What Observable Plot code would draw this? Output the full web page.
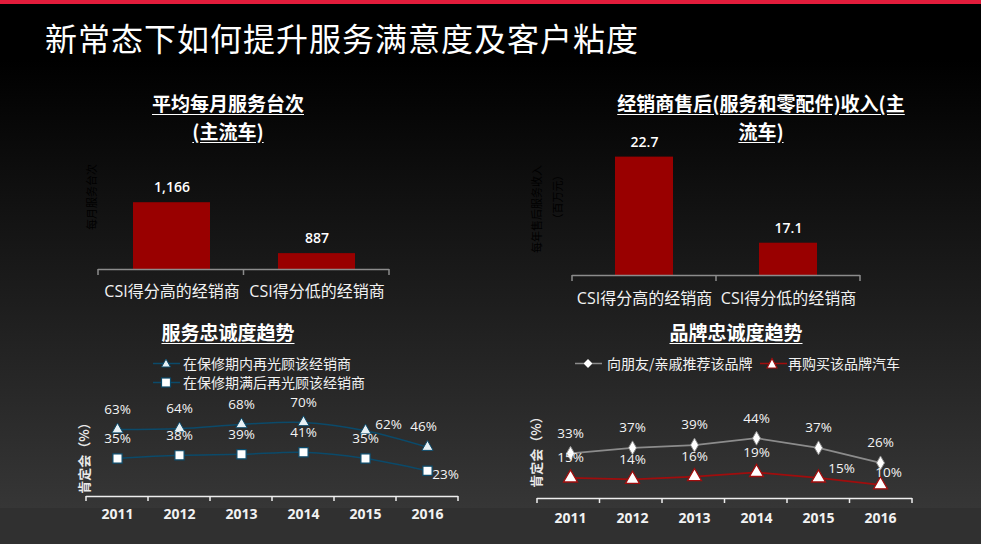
<!DOCTYPE html>
<html>
<head>
<meta charset="utf-8">
<script src="https://cdn.jsdelivr.net/npm/d3@7"></script>
<script src="https://cdn.jsdelivr.net/npm/@observablehq/plot@0.6"></script>
<style>
  html, body { margin: 0; padding: 0; background: #000; }
  #page {
    position: relative; width: 981px; height: 544px; overflow: hidden;
    background: linear-gradient(180deg, #000 0px, #000 60px, #363636 508px, #303030 508px, #303030 544px);
    font-family: "Noto Sans CJK SC", "Noto Sans", sans-serif; color: #fff;
  }
  #topbar { position: absolute; left: 0; top: 0; width: 981px; height: 4px; background: #e21c3b; }
  .abs { position: absolute; }
  #mainTitle { left: 45px; top: 21px; font-size: 32px; line-height: 32px; letter-spacing: 1px; font-weight: 400; white-space: nowrap; }
  .ctitle { text-align: center; font-size: 19px; line-height: 20px; height: 20px; font-weight: 700; text-decoration: underline; text-underline-offset: 3px; white-space: nowrap; z-index: 2; }
  .leg { font-size: 14px; line-height: 19px; height: 19px; white-space: nowrap; color: #f2f2f2; display: flex; align-items: center; }
  .leg svg { display: block; }
  .ylab { transform: translate(-50%, -50%) rotate(-90deg); white-space: nowrap; }
  .chart { position: absolute; }
</style>
</head>
<body>
<div id="page">
  <div id="topbar"></div>
  <div id="mainTitle" class="abs">新常态下如何提升服务满意度及客户粘度</div>

  <div class="abs ctitle" style="left:128px; top:92.5px; width:200px;">平均每月服务台次</div>
  <div class="abs ctitle" style="left:128px; top:120.5px; width:200px;">(主流车)</div>
  <div class="abs ctitle" style="left:561px; top:92.5px; width:400px;">经销商售后(服务和零配件)收入(主</div>
  <div class="abs ctitle" style="left:561px; top:120.5px; width:400px;">流车)</div>
  <div class="abs ctitle" style="left:128px; top:321.5px; width:200px;">服务忠诚度趋势</div>
  <div class="abs ctitle" style="left:636px; top:321.5px; width:200px;">品牌忠诚度趋势</div>

  <div class="abs ylab" style="left:91px; top:197px; font-size:11px; color:#000;">每月服务台次</div>
  <div class="abs ylab" style="left:536px; top:209px; font-size:11px; color:#000;">每年售后服务收入</div>
  <div class="abs ylab" style="left:557px; top:197px; font-size:11px; color:#000;">（百万元）</div>
  <div class="abs ylab" style="left:83px; top:455px; font-size:13px; font-weight:700; color:#e8e8e8;">肯定会（%）</div>
  <div class="abs ylab" style="left:535px; top:449px; font-size:13px; font-weight:700; color:#e8e8e8;">肯定会（%）</div>

  <div id="c1" class="chart" style="left:80px; top:110px;"></div>
  <div id="c2" class="chart" style="left:540px; top:110px;"></div>
  <div id="c3" class="chart" style="left:70px; top:380px;"></div>
  <div id="c4" class="chart" style="left:520px; top:380px;"></div>

  <div class="abs leg" style="left:153px; top:353.5px;">
    <svg width="30" height="19"><line x1="0" y1="9.5" x2="27" y2="9.5" stroke="#0b4a6a" stroke-width="1.5"/><path d="M13,5 L17.5,13 L8.5,13 Z" fill="#e8f0f4" stroke="#0b4a6a" stroke-width="1"/></svg>
    <span>在保修期内再光顾该经销商</span>
  </div>
  <div class="abs leg" style="left:153px; top:372.5px;">
    <svg width="30" height="19"><line x1="0" y1="9.5" x2="27" y2="9.5" stroke="#0b4a6a" stroke-width="1.5"/><rect x="8.5" y="5" width="9" height="9" fill="#fff" stroke="#0b4a6a" stroke-width="1.2"/></svg>
    <span>在保修期满后再光顾该经销商</span>
  </div>
  <div class="abs leg" style="left:575px; top:353.5px;">
    <svg width="32" height="19"><line x1="0" y1="9.5" x2="27" y2="9.5" stroke="#8c8c8c" stroke-width="1.5"/><path d="M13,5 L17.5,9.5 L13,14 L8.5,9.5 Z" fill="#fff" stroke="#8c8c8c" stroke-width="1"/></svg>
    <span>向朋友/亲戚推荐该品牌</span>
  </div>
  <div class="abs leg" style="left:760px; top:353.5px;">
    <svg width="28" height="19"><line x1="0" y1="9.5" x2="27" y2="9.5" stroke="#a00d0d" stroke-width="1.5"/><path d="M12,4.5 L17,14 L7,14 Z" fill="#fff" stroke="#a00d0d" stroke-width="1.2"/></svg>
    <span>再购买该品牌汽车</span>
  </div>
</div>

<script>
// ---------- data ----------
const dealerCats = ["CSI得分高的经销商", "CSI得分低的经销商"];
const monthlyService = [1166, 887];
const afterSalesRevenue = [22.7, 17.1];

const years = ["2011", "2012", "2013", "2014", "2015", "2016"];
const revisitInWarranty = [63, 64, 68, 70, 62, 46];
const revisitAfterWarranty = [35, 38, 39, 41, 35, 23];
const recommendBrand = [33, 37, 39, 44, 37, 26];
const repurchaseBrand = [15, 14, 16, 19, 15, 10];

// ---------- helpers ----------
const FONT = "'Open Sans', 'Noto Sans CJK SC', sans-serif";
const baseStyle = {background: "transparent", color: "#fff", fontFamily: FONT, overflow: "visible"};

function addBoundaryTicks(plot, n, yPix, stroke, len) {
  const sx = plot.scale("x");
  const [r0, r1] = sx.range;
  const svg = d3.select(plot);
  for (let k = 0; k <= n; k++) {
    const x = r0 + (r1 - r0) * k / n;
    svg.append("line").attr("x1", x).attr("x2", x).attr("y1", yPix).attr("y2", yPix + len)
      .attr("stroke", stroke).attr("stroke-width", 1.5);
  }
}

// ---------- bar charts ----------
function barChart(el, values, domain, fmt, opts) {
  const data = dealerCats.map((c, i) => ({cat: c, v: values[i]}));
  const plot = Plot.plot({
    width: opts.width, height: opts.height,
    marginLeft: opts.ml, marginRight: opts.mr, marginTop: opts.mt, marginBottom: opts.mb,
    x: {domain: dealerCats, paddingInner: opts.pi, paddingOuter: opts.pi / 2, axis: null},
    y: {domain, axis: null},
    style: baseStyle,
    marks: [
      Plot.barY(data, {x: "cat", y1: domain[0], y2: "v", fill: "#990000"}),
      Plot.ruleY([domain[0]], {stroke: "#8c8c8c", strokeWidth: 1.5}),
      Plot.text(data, {x: "cat", y: "v", text: d => fmt(d.v), dy: -15, fill: "#fff", fontSize: 14, fontWeight: 600}),
      Plot.text(dealerCats, {x: d => d, frameAnchor: "bottom", dy: opts.labDy, fill: "#f2f2f2", fontSize: 16})
    ]
  });
  addBoundaryTicks(plot, dealerCats.length, opts.height - opts.mb, "#8c8c8c", 6);
  document.getElementById(el).appendChild(plot);
}

barChart("c1", monthlyService, [800, 1200], d3.format(","),
  {width: 330, height: 205, ml: 18, mr: 21, mt: 86, mb: 46, pi: 0.47, labDy: 27});
barChart("c2", afterSalesRevenue, [15, 23], d => d.toFixed(1),
  {width: 350, height: 205, ml: 32, mr: 30, mt: 42, mb: 40, pi: 0.6, labDy: 28});

// ---------- line charts ----------
function labelMarks(data, key, special) {
  const marks = [];
  const txt = d => d[key] + "%";
  marks.push(Plot.text(data, {filter: d => !(d.i in special), x: "year", y: key, text: txt, dy: -20, fill: "#f4f4f4", fontSize: 13.5}));
  for (const [idx, off] of Object.entries(special)) {
    marks.push(Plot.text(data, {filter: d => d.i === +idx, x: "year", y: key, text: txt, dx: off[0], dy: off[1], fill: "#f4f4f4", fontSize: 13.5}));
  }
  return marks;
}

// Chart 3: service loyalty
(function () {
  const W = 400, H = 150, mb = 36;
  const data = years.map((y, i) => ({year: y, i, a: revisitInWarranty[i], b: revisitAfterWarranty[i]}));
  const plot = Plot.plot({
    width: W, height: H, marginLeft: 16, marginRight: 12, marginTop: 11, marginBottom: mb,
    x: {type: "point", domain: years, padding: 0.5, axis: null},
    y: {domain: [0, 100], axis: null},
    style: baseStyle,
    marks: [
      Plot.ruleY([0], {dy: 2, stroke: "#eeeeee", strokeWidth: 1.5}),
      Plot.line(data, {x: "year", y: "a", stroke: "#0b4a6a", strokeWidth: 1.5, curve: "catmull-rom"}),
      Plot.line(data, {x: "year", y: "b", stroke: "#0b4a6a", strokeWidth: 1.5, curve: "catmull-rom"}),
      Plot.dot(data, {x: "year", y: "a", symbol: "triangle", r: 4.2, fill: "#e8f0f4", stroke: "#0b4a6a", strokeWidth: 1}),
      Plot.dot(data, {x: "year", y: "b", symbol: "square", r: 5.2, fill: "#ffffff", stroke: "#0b4a6a", strokeWidth: 1.2}),
      ...labelMarks(data, "a", {4: [23, -6], 5: [-4, -20]}),
      ...labelMarks(data, "b", {5: [18, 4]}),
      Plot.text(years, {x: d => d, frameAnchor: "bottom", dy: 24, fill: "#f2f2f2", fontSize: 14, fontWeight: 700})
    ]
  });
  addBoundaryTicks(plot, years.length, H - mb + 2, "#eeeeee", 5);
  document.getElementById("c3").appendChild(plot);
})();

// Chart 4: brand loyalty
(function () {
  const W = 420, H = 150, mb = 32;
  const data = years.map((y, i) => ({year: y, i, a: recommendBrand[i], b: repurchaseBrand[i]}));
  const plot = Plot.plot({
    width: W, height: H, marginLeft: 17, marginRight: 28, marginTop: 8.4, marginBottom: mb,
    x: {type: "point", domain: years, padding: 0.5, axis: null},
    y: {domain: [0, 80], axis: null},
    style: baseStyle,
    marks: [
      Plot.ruleY([0], {stroke: "#eeeeee", strokeWidth: 1.5}),
      Plot.line(data, {x: "year", y: "a", stroke: "#8c8c8c", strokeWidth: 1.8}),
      Plot.line(data, {x: "year", y: "b", stroke: "#a00d0d", strokeWidth: 1.8}),
      Plot.dot(data, {x: "year", y: "a", symbol: "diamond", r: 4.2, fill: "#ffffff", stroke: "#8c8c8c", strokeWidth: 1}),
      Plot.dot(data, {x: "year", y: "b", symbol: "triangle", r: 5.2, fill: "#ffffff", stroke: "#a00d0d", strokeWidth: 1.3}),
      ...labelMarks(data, "a", {}),
      ...labelMarks(data, "b", {4: [23, -9], 5: [8, -12]}),
      Plot.text(years, {x: d => d, frameAnchor: "bottom", dy: 24, fill: "#f2f2f2", fontSize: 14, fontWeight: 700})
    ]
  });
  addBoundaryTicks(plot, years.length, H - mb, "#eeeeee", 5);
  document.getElementById("c4").appendChild(plot);
})();
</script>
</body>
</html>
